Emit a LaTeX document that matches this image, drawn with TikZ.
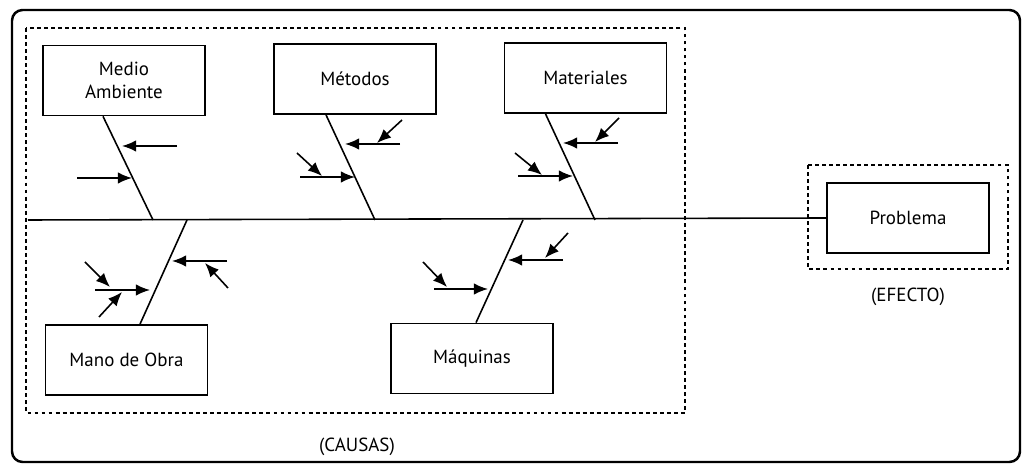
\documentclass[tikz,border=0pt]{standalone}
\usepackage{fontspec}
\setmainfont{PT Sans}
\usetikzlibrary{arrows.meta,calc}
\begin{document}
\begin{tikzpicture}[x=0.02cm,y=-0.02cm,
  causebox/.style={draw,line width=1pt,minimum width=3.24cm,minimum height=1.4cm,
    inner sep=0pt,align=center,font=\fontsize{10.8}{13}\selectfont},
  bone/.style={line width=0.9pt},
  sub/.style={line width=0.9pt,-{Latex[length=8pt,width=6.5pt]}},
  frame/.style={line width=0.9pt,dash pattern=on 2.2pt off 1.8pt},
  caption/.style={font=\fontsize{10.8}{13}\selectfont}]
\useasboundingbox (0,0) rectangle (1022,465);

% outer frame and the dashed groups
\draw[line width=1.4pt,rounded corners=6pt] (12,10) rectangle (1020,462);
\draw[frame] (26,28) rectangle (685,413);
\draw[frame] (808,165) rectangle (1008,269);

% effect
\node[causebox] (prob) at (908,218) {Problema};
\node[caption] (efecto) at (908,297) {(EFECTO)};
\node[caption] (causas) at (357,447) {(CAUSAS)};

% spine
\coordinate (tail) at (28,220);
\draw[bone] (tail) -- (prob.west);

% cause boxes
\node[causebox] (medio) at (124,80.5) {Medio\\Ambiente};
\node[causebox] (metodos) at (355,79) {Métodos};
\node[causebox] (mat) at (585.5,78) {Materiales};
\node[causebox] (mano) at (126.5,360) {Mano de Obra};
\node[causebox] (maq) at (472,358.5) {Máquinas};

% bone ends on the spine
\coordinate (j1) at (153,220);
\coordinate (j2) at (375,220);
\coordinate (j3) at (595,220);
\coordinate (j4) at (187,220);
\coordinate (j5) at (523,220);

\draw[bone] ($(medio.south)+(-21,0)$) -- (j1);
\draw[bone] ($(metodos.south)+(-29,0)$) -- (j2);
\draw[bone] ($(mat.south)+(-40,0)$) -- (j3);
\draw[bone] ($(mano.north)+(13.5,0)$) -- (j4);
\draw[bone] ($(maq.north)+(4,0)$) -- (j5);

% Medio Ambiente
\coordinate (a1s) at (177,146); \coordinate (a1e) at (122,146);
\coordinate (a2s) at (77,178);  \coordinate (a2e) at (132,178);
\draw[sub] (a1s) -- (a1e);
\draw[sub] (a2s) -- (a2e);

% Metodos
\coordinate (b1s) at (400,144); \coordinate (b1e) at (345,144);
\coordinate (b1d) at (402,120); \coordinate (b1m) at (377,143);
\coordinate (b2s) at (300,177); \coordinate (b2e) at (355,177);
\coordinate (b2d) at (297,153); \coordinate (b2m) at (322,176);
\draw[sub] (b1s) -- (b1e);
\draw[sub] (b1d) -- (b1m);
\draw[sub] (b2s) -- (b2e);
\draw[sub] (b2d) -- (b2m);

% Materiales
\coordinate (c1s) at (618,143); \coordinate (c1e) at (563,143);
\coordinate (c1d) at (619,118); \coordinate (c1m) at (595,142);
\coordinate (c2s) at (518,176); \coordinate (c2e) at (573,176);
\coordinate (c2d) at (515,153); \coordinate (c2m) at (542,175);
\draw[sub] (c1s) -- (c1e);
\draw[sub] (c1d) -- (c1m);
\draw[sub] (c2s) -- (c2e);
\draw[sub] (c2d) -- (c2m);

% Mano de Obra
\coordinate (d1s) at (227,261); \coordinate (d1e) at (172,261);
\coordinate (d1d) at (228,288); \coordinate (d1m) at (205,263);
\coordinate (d2s) at (95,290);  \coordinate (d2e) at (150,290);
\coordinate (d2u) at (85,262);  \coordinate (d2a) at (110,287);
\coordinate (d2l) at (99,317);  \coordinate (d2b) at (122,292);
\draw[sub] (d1s) -- (d1e);
\draw[sub] (d1d) -- (d1m);
\draw[sub] (d2s) -- (d2e);
\draw[sub] (d2u) -- (d2a);
\draw[sub] (d2l) -- (d2b);

% Maquinas
\coordinate (e1s) at (563,260); \coordinate (e1e) at (508,260);
\coordinate (e1d) at (568,233); \coordinate (e1m) at (545,258);
\coordinate (e2s) at (434,289); \coordinate (e2e) at (488,289);
\coordinate (e2d) at (423,262); \coordinate (e2m) at (447,287);
\draw[sub] (e1s) -- (e1e);
\draw[sub] (e1d) -- (e1m);
\draw[sub] (e2s) -- (e2e);
\draw[sub] (e2d) -- (e2m);
\end{tikzpicture}
\end{document}
